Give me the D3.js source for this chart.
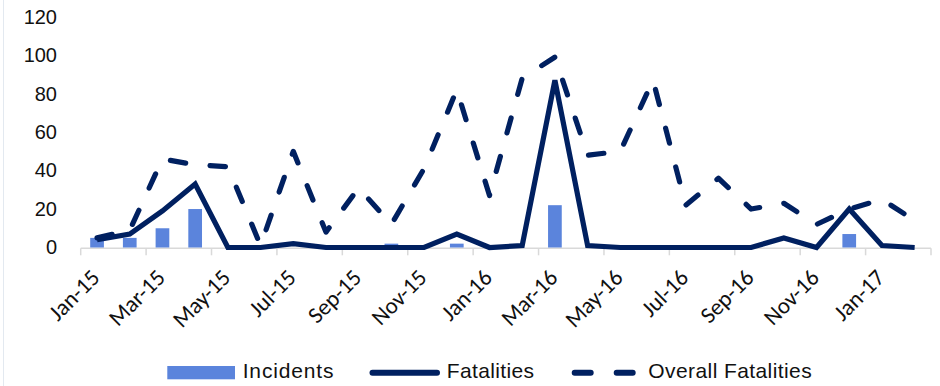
<!DOCTYPE html>
<html>
<head>
<meta charset="utf-8">
<script src="https://cdn.jsdelivr.net/npm/d3@7"></script>
<style>
  body { margin: 0; background: #fff; }
  svg { display: block; }
</style>
</head>
<body>
<svg id="chart" width="940" height="386"></svg>
<script>
// Monthly categories
const months = [
  "Jan-15","Feb-15","Mar-15","Apr-15","May-15","Jun-15","Jul-15","Aug-15","Sep-15","Oct-15","Nov-15","Dec-15",
  "Jan-16","Feb-16","Mar-16","Apr-16","May-16","Jun-16","Jul-16","Aug-16","Sep-16","Oct-16","Nov-16","Dec-16",
  "Jan-17","Feb-17"
];
// Series values
const incidents = [5,5,10,20,0,0,0,0,0,2,0,2,0,0,22,0,0,0,0,0,0,0,0,7,0,0];
const fatalities = [4,7,19,33,0,0,2,0,0,0,0,7,0,1,87,1,0,0,0,0,0,5,0,20,1,0];
const overallFatalities = [5,9,46,43,42,1,50,8,31,12,41,82,27,88,99,48,50,87,22,36,20,23,12,20,25,14];
// Axis ticks
const yTicks = [0,20,40,60,80,100,120];
const xTickLabels = months.filter((d, i) => i % 2 === 0);
// Legend entries
const legendLabels = ["Incidents", "Fatalities", "Overall Fatalities"];

const navy = "#002060";
const barBlue = "#5b84dc";

const svg = d3.select("#chart");

// faint outer frame edge
svg.append("line")
  .attr("x1", 3.5).attr("x2", 3.5).attr("y1", 0).attr("y2", 386)
  .attr("stroke", "#e3e9f0").attr("stroke-width", 1);

const x = d3.scaleBand().domain(months).range([80.7, 931]).padding(0);
const y = d3.scaleLinear().domain([0, 120]).range([247.5, 16.7]);
const cx = m => x(m) + x.bandwidth() / 2;

// Y axis labels (no axis line)
const yAxis = svg.append("g")
  .attr("transform", "translate(57,0)")
  .call(d3.axisLeft(y).tickValues(yTicks).tickSize(0).tickPadding(0));
yAxis.select(".domain").remove();
yAxis.selectAll("text")
  .attr("font-family", "Arial, 'Liberation Sans', sans-serif")
  .attr("font-size", 20)
  .attr("fill", "#111");

// X axis: base line with ticks every two months
const axisY = y(0) + 0.8;
const xAxisG = svg.append("g");
xAxisG.append("line")
  .attr("x1", x.range()[0]).attr("x2", x.range()[1])
  .attr("y1", axisY).attr("y2", axisY)
  .attr("stroke", "#d9d9d9").attr("stroke-width", 1.5);
const tickPositions = months.filter((d, i) => i % 2 === 0).map(m => x(m)).concat([x.range()[1]]);
xAxisG.selectAll(".tick").data(tickPositions).join("line")
  .attr("x1", d => d).attr("x2", d => d)
  .attr("y1", axisY).attr("y2", axisY + 7)
  .attr("stroke", "#d9d9d9").attr("stroke-width", 1.5);
xAxisG.selectAll(".xlabel").data(xTickLabels).join("text")
  .attr("transform", m => `translate(${cx(m) + 4},279) rotate(-45)`)
  .attr("text-anchor", "end")
  .attr("font-family", "Carlito, 'Open Sans', sans-serif")
  .attr("font-size", 23)
  .attr("fill", "#111")
  .text(d => d);

// Incident bars
const barW = 13.7;
svg.append("g").selectAll("rect").data(months).join("rect")
  .attr("x", (m) => cx(m) - barW / 2)
  .attr("width", barW)
  .attr("y", (m, i) => y(incidents[i]))
  .attr("height", (m, i) => y(0) - y(incidents[i]))
  .attr("fill", barBlue);

// Fatalities (solid) and overall fatalities (dashed)
const line = d3.line().x(d => cx(d.m)).y(d => y(d.v));
svg.append("path")
  .datum(months.map((m, i) => ({ m, v: overallFatalities[i] })))
  .attr("d", line)
  .attr("fill", "none")
  .attr("stroke", navy)
  .attr("stroke-width", 5.2)
  .attr("stroke-linecap", "round")
  .attr("stroke-linejoin", "round")
  .attr("stroke-dasharray", "15.5,24.5");
svg.append("path")
  .datum(months.map((m, i) => ({ m, v: fatalities[i] })))
  .attr("d", line)
  .attr("fill", "none")
  .attr("stroke", navy)
  .attr("stroke-width", 5.2)
  .attr("stroke-linejoin", "miter");

// Legend
const legend = svg.append("g")
  .attr("font-family", "Arial, 'Liberation Sans', sans-serif")
  .attr("font-size", 21)
  .attr("fill", "#111");
legend.append("rect")
  .attr("x", 167.3).attr("y", 366).attr("width", 67.7).attr("height", 13.3)
  .attr("fill", barBlue);
legend.append("line")
  .attr("x1", 372.5).attr("x2", 437).attr("y1", 372.7).attr("y2", 372.7)
  .attr("stroke", navy).attr("stroke-width", 6).attr("stroke-linecap", "round");
legend.append("line")
  .attr("x1", 574.7).attr("x2", 632.7).attr("y1", 372.7).attr("y2", 372.7)
  .attr("stroke", navy).attr("stroke-width", 6).attr("stroke-linecap", "round")
  .attr("stroke-dasharray", "16,26");
const legendText = [
  { x: 242.7, w: 90.7 },
  { x: 446.7, w: 87.3 },
  { x: 648.3, w: 163.4 }
];
legend.selectAll("text").data(legendLabels).join("text")
  .attr("x", (d, i) => legendText[i].x)
  .attr("y", 378.3)
  .attr("textLength", (d, i) => legendText[i].w)
  .attr("lengthAdjust", "spacing")
  .text(d => d);
</script>
</body>
</html>
